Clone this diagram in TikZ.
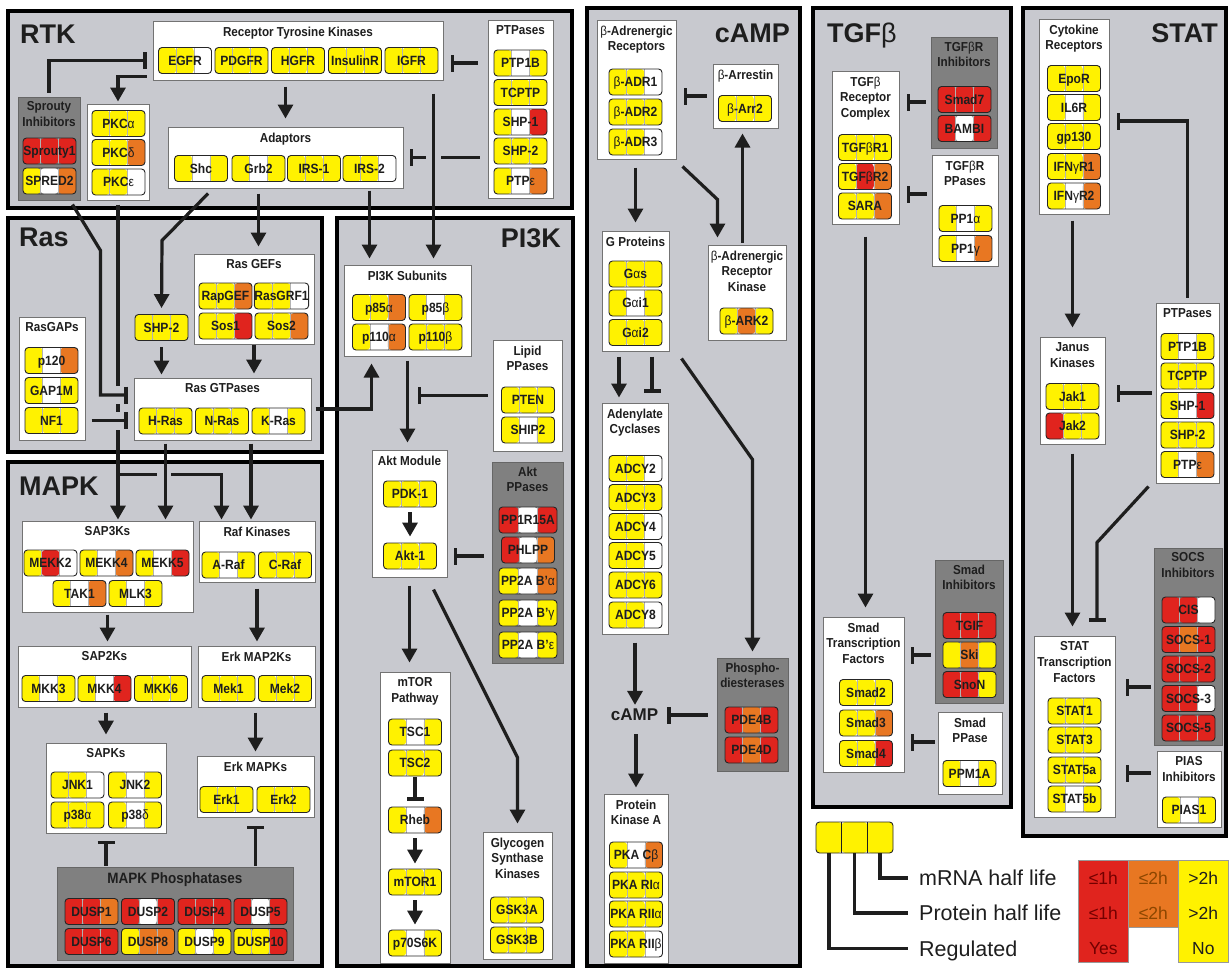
\documentclass[tikz,border=0pt]{standalone}
\usepackage{fontspec}
\setmainfont{Liberation Sans}
\newfontfamily\cf[FakeStretch=0.9]{Liberation Sans}
\usetikzlibrary{arrows.meta,calc,positioning,fit}
\definecolor{panelgray}{RGB}{200,201,207}
\definecolor{inhgray}{RGB}{128,128,128}
\definecolor{yel}{RGB}{255,242,0}
\definecolor{rdd}{RGB}{224,36,30}
\definecolor{org}{RGB}{232,119,34}
\definecolor{wht}{RGB}{255,255,255}
\definecolor{ink}{RGB}{30,30,30}
\newcommand{\gk}[1]{{\mdseries #1}}
% one gene: [extra options]{name}{x,y}{regulated}{protein}{mRNA}{label}
\newcommand{\gene}[7][]{%
  \node[gbox,#1,path picture={
    \coordinate (gsw) at (path picture bounding box.south west);
    \coordinate (gne) at (path picture bounding box.north east);
    \coordinate (ga) at ($(gsw)!1/3!(gsw-|gne)$);
    \coordinate (gb) at ($(gsw)!2/3!(gsw-|gne)$);
    \fill[#4] (gsw) rectangle (ga|-gne);
    \fill[#5] (ga) rectangle (gb|-gne);
    \fill[#6] (gb) rectangle (gne);
    \draw[sepl] (ga) -- (ga|-gne) (gb) -- (gb|-gne);
  }] (#2) at (#3) {#7};}
\tikzset{
  panel/.style={draw=black,line width=3.5pt,fill=panelgray,inner sep=0pt},
  wbox/.style={draw=black!55,line width=1pt,fill=white,inner sep=0pt},
  dbox/.style={draw=black!60,line width=1pt,fill=inhgray,inner sep=0pt},
  hdr/.style={font={\cf\bfseries\fontsize{13}{15.8}\selectfont},align=center,inner sep=1pt,text=ink},
  ttl/.style={font={\bfseries\fontsize{27}{30}\selectfont},inner sep=0pt,text=ink},
  gbox/.style={draw=black!85,line width=0.9pt,rounded corners=3.5pt,minimum width=53pt,minimum height=26pt,
    inner sep=0pt,text height=9.6pt,text depth=0pt,font={\cf\bfseries\fontsize{13.4}{13.4}\selectfont},text=ink},
  sepl/.style={draw=black!30,line width=0.6pt},
  conn/.style={line width=3.2pt,draw=ink},
  act/.style={conn,-{Triangle[length=14pt,width=15pt]},shorten <=5pt,shorten >=4pt},
  inh/.style={conn,-{Bar[width=17pt]},shorten <=6pt,shorten >=6pt},
  legl/.style={conn,line width=3.5pt},
  legt/.style={font={\fontsize{21.5}{22}\selectfont},inner sep=0pt,text height=15.4pt,text depth=0pt,text=ink},
  cell/.style={draw=black!40,line width=0.6pt,inner sep=0pt},
  cellt/.style={font={\fontsize{17.5}{18}\selectfont},inner sep=0pt,text height=12.5pt,text depth=0pt},
}
\begin{document}
\begin{tikzpicture}[x=1pt,y=-1pt]
\fill[white] (0,0) rectangle (1229,970);
\useasboundingbox (0,0) rectangle (1229,970);

% panels
\node[panel,fit={(8,11)(572,208)}] (pRTK) {};
\node[panel,fit={(8,218)(322,452)}] (pRas) {};
\node[panel,fit={(8,462)(322,966)}] (pMAPK) {};
\node[panel,fit={(337,218)(573,966)}] (pPI3K) {};
\node[panel,fit={(587,8)(800,966)}] (pCAMP) {};
\node[panel,fit={(813,8)(1011,807)}] (pTGF) {};
\node[panel,fit={(1023,8)(1226,836)}] (pSTAT) {};
\node[ttl,anchor=base west] (tRTK) at (20,43) {RTK};
\node[ttl,anchor=base west] (tRas) at (19,246) {Ras};
\node[ttl,anchor=base west] (tMAPK) at (19,495) {MAPK};
\node[ttl,anchor=base east] (tPI3K) at (561,247) {PI3K};
\node[ttl,anchor=base east] (tCAMP) at (790,42) {cAMP};
\node[ttl,anchor=base west] (tTGF) at (827,42) {TGF\gk{β}};
\node[ttl,anchor=base east] (tSTAT) at (1218,42) {STAT};

% RTK
\node[wbox,fit={(153,21)(443,80)}] (rtkG) {};
\node[hdr,below=5pt of rtkG.north] (rtkH) {Receptor Tyrosine Kinases};
\gene{EGFR}{185,60.5}{yel}{yel}{wht}{EGFR}
\gene{PDGFR}{241.5,60.5}{yel}{yel}{yel}{PDGFR}
\gene{HGFR}{298,60.5}{yel}{yel}{yel}{HGFR}
\gene{InsR}{355,60.5}{yel}{yel}{yel}{InsulinR}
\gene{IGFR}{411.5,60.5}{yel}{yel}{yel}{IGFR}
\node[wbox,fit={(488,20)(553,198)}] (ptpA) {};
\node[hdr,below=5pt of ptpA.north] (ptpAH) {PTPases};
\gene{PTP1Ba}{520.5,63}{yel}{wht}{yel}{PTP1B}
\gene{TCPTPa}{520.5,92.5}{yel}{yel}{yel}{TCPTP}
\gene{SHP1a}{520.5,122}{yel}{wht}{rdd}{SHP-1}
\gene{SHP2a}{520.5,151}{yel}{yel}{yel}{SHP-2}
\gene{PTPea}{520.5,181}{yel}{wht}{org}{PTP\gk{ε}}
\node[wbox,fit={(168,127)(403,188)}] (adpG) {};
\node[hdr,below=5pt of adpG.north] (adpH) {Adaptors};
\gene{Shc}{201,168.5}{yel}{wht}{yel}{Shc}
\gene{Grb}{258.5,168.5}{yel}{wht}{yel}{Grb2}
\gene{IRSa}{314,168.5}{yel}{yel}{yel}{IRS-1}
\gene{IRSb}{369.5,168.5}{yel}{yel}{wht}{IRS-2}
\node[dbox,fit={(18,97)(80,200)}] (sprG) {};
\node[hdr,below=4pt of sprG.north] (sprH) {Sprouty\\Inhibitors};
\gene{Spry}{49.5,151}{rdd}{rdd}{rdd}{Sprouty1}
\gene{Spred}{49.5,181}{yel}{wht}{org}{SPRED2}
\node[wbox,fit={(87,104)(149,200)}] (pkcG) {};
\gene{PKCa}{118.5,123.5}{yel}{yel}{yel}{PKC\gk{α}}
\gene{PKCd}{118.5,152.5}{yel}{yel}{org}{PKC\gk{δ}}
\gene{PKCe}{118.5,182}{yel}{yel}{wht}{PKC\gk{ε}}

% Ras
\node[wbox,fit={(194,254)(314,344)}] (gefG) {};
\node[hdr,below=5pt of gefG.north] (gefH) {Ras GEFs};
\gene{RapGEF}{225.5,296}{yel}{yel}{org}{RapGEF}
\gene{RasGRF}{281.5,296}{yel}{yel}{wht}{RasGRF1}
\gene{Sos1}{225.5,326}{yel}{yel}{rdd}{Sos1}
\gene{Sos2}{281.5,326}{yel}{yel}{org}{Sos2}
\gene{shpR}{161.5,327.5}{yel}{yel}{yel}{SHP-2}
\node[wbox,fit={(134,378)(311,440)}] (rasG) {};
\node[hdr,below=5pt of rasG.north] (rasH) {Ras GTPases};
\gene{Hras}{165.5,421}{yel}{yel}{yel}{H-Ras}
\gene{Nras}{222,421}{yel}{yel}{yel}{N-Ras}
\gene{Kras}{278.5,421}{yel}{wht}{yel}{K-Ras}
\node[wbox,fit={(19,317)(85,440)}] (gapG) {};
\node[hdr,below=5pt of gapG.north] (gapH) {RasGAPs};
\gene{p120}{51.5,360.5}{yel}{wht}{org}{p120}
\gene{GAP1M}{51.5,390.5}{yel}{wht}{yel}{GAP1M}
\gene{NF1}{51.5,420.5}{yel}{yel}{yel}{NF1}

% PI3K
\node[wbox,fit={(344,265)(471,356)}] (pi3G) {};
\node[hdr,below=5pt of pi3G.north] (pi3H) {PI3K Subunits};
\gene{p85a}{379,307.5}{yel}{yel}{org}{p85\gk{α}}
\gene{p85b}{435.5,307.5}{yel}{wht}{yel}{p85\gk{β}}
\gene{p110a}{379,337}{yel}{wht}{org}{p110\gk{α}}
\gene{p110b}{435.5,337}{yel}{yel}{yel}{p110\gk{β}}
\node[wbox,fit={(493,340)(562,451)}] (lipG) {};
\node[hdr,below=5pt of lipG.north] (lipH) {Lipid\\PPases};
\gene{PTEN}{528,400}{yel}{yel}{yel}{PTEN}
\gene{SHIP2}{528,430}{yel}{wht}{yel}{SHIP2}
\node[wbox,fit={(372,450)(447,577)}] (aktG) {};
\node[hdr,below=5pt of aktG.north] (aktH) {Akt Module};
\gene{PDK}{410,494}{yel}{yel}{yel}{PDK-1}
\gene{Akt}{410,556}{yel}{yel}{yel}{Akt-1}
\node[dbox,fit={(492,462)(563,663)}] (aktP) {};
\node[hdr,below=4pt of aktP.north] (aktPH) {Akt\\PPases};
\gene[minimum width=58pt]{PPr15}{528,520}{rdd}{wht}{rdd}{PP1R15A}
\gene{PHLPP}{528,550}{rdd}{wht}{org}{PHLPP}
\gene[minimum width=58pt]{PPa}{528,581}{yel}{wht}{org}{PP2A B’\gk{α}}
\gene[minimum width=58pt]{PPg}{528,613}{yel}{wht}{yel}{PP2A B’\gk{γ}}
\gene[minimum width=58pt]{PPe}{528,645}{yel}{wht}{yel}{PP2A B’\gk{ε}}
\node[wbox,fit={(380,672)(450,963)}] (mtG) {};
\node[hdr,below=5pt of mtG.north] (mtH) {mTOR\\Pathway};
\gene{TSCa}{415,732}{yel}{wht}{yel}{TSC1}
\gene{TSCb}{415,763}{yel}{yel}{yel}{TSC2}
\gene{Rheb}{415,820}{yel}{wht}{org}{Rheb}
\gene{mTOR}{415,882}{yel}{yel}{yel}{mTOR1}
\gene{p70}{415,943}{yel}{wht}{yel}{p70S6K}
\node[wbox,fit={(483,832)(552,959)}] (gskG) {};
\node[hdr,below=5pt of gskG.north] (gskH) {Glycogen\\Synthase\\Kinases};
\gene{GSKa}{517,910}{yel}{yel}{yel}{GSK3A}
\gene{GSKb}{517,940}{yel}{yel}{yel}{GSK3B}

% MAPK
\node[wbox,fit={(22,521)(193,612)}] (s3G) {};
\node[hdr,below=5pt of s3G.north] (s3H) {SAP3Ks};
\gene{MEKK2}{50.5,563}{yel}{rdd}{wht}{MEKK2}
\gene{MEKK4}{106.5,563}{yel}{wht}{org}{MEKK4}
\gene{MEKK5}{162.5,563}{yel}{wht}{rdd}{MEKK5}
\gene{TAK1}{79.5,593.5}{yel}{wht}{org}{TAK1}
\gene{MLK3}{135.5,593.5}{yel}{wht}{yel}{MLK3}
\node[wbox,fit={(199,521)(315,582)}] (rafG) {};
\node[hdr,below=5pt of rafG.north] (rafH) {Raf Kinases};
\gene{ARaf}{228.5,565}{yel}{wht}{yel}{A-Raf}
\gene{CRaf}{285,565}{yel}{yel}{yel}{C-Raf}
\node[wbox,fit={(18,646)(191,707)}] (s2G) {};
\node[hdr,below=5pt of s2G.north] (s2H) {SAP2Ks};
\gene{MKK3}{48.5,688.5}{yel}{wht}{yel}{MKK3}
\gene{MKK4}{104.5,688.5}{yel}{wht}{rdd}{MKK4}
\gene{MKK6}{161,688.5}{yel}{yel}{yel}{MKK6}
\node[wbox,fit={(198,646)(315,707)}] (e2G) {};
\node[hdr,below=5pt of e2G.north] (e2H) {Erk MAP2Ks};
\gene{Mek1}{228.5,688.5}{yel}{yel}{yel}{Mek1}
\gene{Mek2}{285,688.5}{yel}{yel}{yel}{Mek2}
\node[wbox,fit={(46,743)(166,833)}] (sapG) {};
\node[hdr,below=5pt of sapG.north] (sapH) {SAPKs};
\gene{JNK1}{77.5,785}{yel}{yel}{wht}{JNK1}
\gene{JNK2}{135,785}{yel}{wht}{yel}{JNK2}
\gene{p38a}{77.5,815}{yel}{yel}{yel}{p38\gk{α}}
\gene{p38d}{135,815}{yel}{wht}{yel}{p38\gk{δ}}
\node[wbox,fit={(197,756)(314,817)}] (erkG) {};
\node[hdr,below=5pt of erkG.north] (erkH) {Erk MAPKs};
\gene{Erk1}{226.5,799.5}{yel}{yel}{yel}{Erk1}
\gene{Erk2}{283.5,799.5}{yel}{yel}{yel}{Erk2}
\node[dbox,fit={(57,867)(293,960)}] (mkpG) {};
\node[hdr,font={\cf\bfseries\fontsize{15}{17}\selectfont},below=5pt of mkpG.north] (mkpH) {MAPK Phosphatases};
\gene{DUSP1}{91.5,911.5}{rdd}{rdd}{org}{DUSP1}
\gene{DUSP2}{148,911.5}{rdd}{wht}{rdd}{DUSP2}
\gene{DUSP4}{204.5,911.5}{rdd}{rdd}{rdd}{DUSP4}
\gene{DUSP5}{260.5,911.5}{rdd}{wht}{rdd}{DUSP5}
\gene{DUSP6}{91.5,941.5}{rdd}{rdd}{rdd}{DUSP6}
\gene{DUSP8}{148,941.5}{yel}{org}{org}{DUSP8}
\gene{DUSP9}{204.5,941.5}{yel}{wht}{yel}{DUSP9}
\gene{DUSP10}{260.5,941.5}{yel}{yel}{rdd}{DUSP10}

% cAMP
\node[wbox,fit={(597,20)(676,159)}] (badG) {};
\node[hdr,below=5pt of badG.north] (badH) {\gk{β}-Adrenergic\\Receptors};
\gene{ADRa}{635.5,82}{yel}{yel}{wht}{\gk{β}-ADR1}
\gene{ADRb}{635.5,112}{yel}{yel}{yel}{\gk{β}-ADR2}
\gene{ADRc}{635.5,142}{yel}{yel}{wht}{\gk{β}-ADR3}
\node[wbox,fit={(713,64)(778,128)}] (barG) {};
\node[hdr,below=5pt of barG.north] (barH) {\gk{β}-Arrestin};
\gene{Arr2}{745,108.5}{yel}{yel}{yel}{\gk{β}-Arr2}
\node[wbox,fit={(602,231)(669,351)}] (gpG) {};
\node[hdr,below=5pt of gpG.north] (gpH) {G Proteins};
\gene{Gas}{635.5,274}{yel}{yel}{yel}{G\gk{α}s}
\gene{Gai1}{635.5,303}{yel}{wht}{yel}{G\gk{α}i1}
\gene{Gai2}{635.5,332.5}{yel}{yel}{yel}{G\gk{α}i2}
\node[wbox,fit={(708,245)(786,340)}] (arkG) {};
\node[hdr,below=5pt of arkG.north] (arkH) {\gk{β}-Adrenergic\\Receptor\\Kinase};
\gene{ARK2}{746.5,321}{yel}{org}{yel}{\gk{β}-ARK2}
\node[wbox,fit={(602,403)(668,634)}] (acG) {};
\node[hdr,below=5pt of acG.north] (acH) {Adenylate\\Cyclases};
\gene{ADCY2}{635.5,468.5}{yel}{yel}{wht}{ADCY2}
\gene{ADCY3}{635.5,497.5}{yel}{yel}{yel}{ADCY3}
\gene{ADCY4}{635.5,526.5}{yel}{yel}{wht}{ADCY4}
\gene{ADCY5}{635.5,555.5}{yel}{yel}{wht}{ADCY5}
\gene{ADCY6}{635.5,585}{yel}{yel}{yel}{ADCY6}
\gene{ADCY8}{635.5,615}{yel}{yel}{wht}{ADCY8}
\node[font={\bfseries\fontsize{17}{17}\selectfont},inner sep=1pt,text=ink] (camp) at (634.5,715) {cAMP};
\node[dbox,fit={(717,658)(788,771)}] (pdeG) {};
\node[hdr,below=4pt of pdeG.north] (pdeH) {Phospho-\\diesterases};
\gene{PDE4B}{751.5,720}{rdd}{org}{rdd}{PDE4B}
\gene{PDE4D}{751.5,750}{rdd}{org}{rdd}{PDE4D}
\node[wbox,fit={(604,794)(668,963)}] (pkaG) {};
\node[hdr,below=5pt of pkaG.north] (pkaH) {Protein\\Kinase A};
\gene{PKAc}{636,855}{yel}{wht}{org}{PKA C\gk{β}}
\gene{PKAr1}{636,885}{yel}{yel}{yel}{PKA RI\gk{α}}
\gene{PKAr2a}{636,914}{yel}{yel}{yel}{PKA RII\gk{α}}
\gene{PKAr2b}{636,944}{yel}{yel}{wht}{PKA RII\gk{β}}

% TGFb
\node[wbox,fit={(832,71)(899,224)}] (tcG) {};
\node[hdr,below=5pt of tcG.north] (tcH) {TGF\gk{β}\\Receptor\\Complex};
\gene{TBR1}{865,147.5}{yel}{yel}{yel}{TGF\gk{β}R1}
\gene{TBR2}{865,176.5}{yel}{rdd}{org}{TGF\gk{β}R2}
\gene{SARA}{865,206}{yel}{yel}{org}{SARA}
\node[dbox,fit={(931,37)(997,148)}] (tiG) {};
\node[hdr,below=4pt of tiG.north] (tiH) {TGF\gk{β}R\\Inhibitors};
\gene{Smad7}{964.5,99.5}{rdd}{rdd}{rdd}{Smad7}
\gene{BAMBI}{964.5,128.5}{rdd}{wht}{rdd}{BAMBI}
\node[wbox,fit={(932,155)(998,266)}] (tpG) {};
\node[hdr,below=5pt of tpG.north] (tpH) {TGF\gk{β}R\\PPases};
\gene{PP1a}{965.5,218.5}{yel}{wht}{yel}{PP1\gk{α}}
\gene{PP1g}{965.5,248.5}{yel}{wht}{org}{PP1\gk{γ}}
\node[wbox,fit={(823,617)(904,772)}] (smG) {};
\node[hdr,below=5pt of smG.north] (smH) {Smad\\Transcription\\Factors};
\gene{Smad2}{866,692.5}{yel}{yel}{yel}{Smad2}
\gene{Smad3}{866,723}{yel}{yel}{org}{Smad3}
\gene{Smad4}{866,753.5}{yel}{yel}{rdd}{Smad4}
\node[dbox,fit={(935,560)(1003,703)}] (siG) {};
\node[hdr,below=4pt of siG.north] (siH) {Smad\\Inhibitors};
\gene{TGIF}{969.5,625.5}{rdd}{rdd}{rdd}{TGIF}
\gene{Ski}{969.5,655}{yel}{org}{yel}{Ski}
\gene{SnoN}{969.5,684.5}{rdd}{rdd}{yel}{SnoN}
\node[wbox,fit={(938,712)(1002,794)}] (sppG) {};
\node[hdr,below=5pt of sppG.north] (sppH) {Smad\\PPase};
\gene{PPM1A}{969.5,773.5}{yel}{wht}{yel}{PPM1A}

% STAT
\node[wbox,fit={(1039,19)(1109,214)}] (crG) {};
\node[hdr,below=5pt of crG.north] (crH) {Cytokine\\Receptors};
\gene{EpoR}{1074,78.5}{yel}{yel}{yel}{EpoR}
\gene{IL6R}{1074,107.5}{yel}{wht}{yel}{IL6R}
\gene{gp130}{1074,136.5}{yel}{yel}{yel}{gp130}
\gene{IFNR1}{1074,166.5}{yel}{yel}{org}{IFN\gk{γ}R1}
\gene{IFNR2}{1074,196}{yel}{wht}{org}{IFN\gk{γ}R2}
\node[wbox,fit={(1156,303)(1219,483)}] (ptpS) {};
\node[hdr,below=5pt of ptpS.north] (ptpSH) {PTPases};
\gene{PTP1Bs}{1187.5,346.5}{yel}{wht}{yel}{PTP1B}
\gene{TCPTPs}{1187.5,376}{yel}{yel}{yel}{TCPTP}
\gene{SHP1s}{1187.5,405.5}{yel}{wht}{rdd}{SHP-1}
\gene{SHP2s}{1187.5,435}{yel}{yel}{yel}{SHP-2}
\gene{PTPes}{1187.5,464.5}{yel}{wht}{org}{PTP\gk{ε}}
\node[wbox,fit={(1040,337)(1105,444)}] (jkG) {};
\node[hdr,below=5pt of jkG.north] (jkH) {Janus\\Kinases};
\gene{Jak1}{1072.5,396.5}{yel}{yel}{yel}{Jak1}
\gene{Jak2}{1072.5,426}{rdd}{yel}{yel}{Jak2}
\node[wbox,fit={(1034,636)(1115,817)}] (stG) {};
\node[hdr,below=5pt of stG.north] (stH) {STAT\\Transcription\\Factors};
\gene{STAT1}{1074.5,711}{yel}{yel}{yel}{STAT1}
\gene{STAT3}{1074.5,740}{yel}{yel}{yel}{STAT3}
\gene{STAT5a}{1074.5,770}{yel}{yel}{yel}{STAT5a}
\gene{STAT5b}{1074.5,799}{yel}{wht}{yel}{STAT5b}
\node[dbox,fit={(1154,548)(1222,745)}] (scG) {};
\node[hdr,below=4pt of scG.north] (scH) {SOCS\\Inhibitors};
\gene{CIS}{1188.5,610}{rdd}{rdd}{wht}{CIS}
\gene{SOCS1}{1188.5,639.5}{rdd}{org}{rdd}{SOCS-1}
\gene{SOCS2}{1188.5,669}{rdd}{rdd}{rdd}{SOCS-2}
\gene{SOCS3}{1188.5,698.5}{rdd}{rdd}{wht}{SOCS-3}
\gene{SOCS5}{1188.5,728}{rdd}{rdd}{rdd}{SOCS-5}
\node[wbox,fit={(1157,751)(1221,827)}] (piG) {};
\node[hdr,below=5pt of piG.north] (piH) {PIAS\\Inhibitors};
\gene{PIAS1}{1189,810}{yel}{wht}{yel}{PIAS1}

% connectors: RTK
\draw[inh,shorten <=10pt,shorten >=7pt] (ptpA.west |- PTP1Ba) -- (rtkG.east |- PTP1Ba);
\draw[inh,shorten <=8pt,shorten >=6pt] (ptpA.west |- adpG.east) -- (adpG.east);
\fill[panelgray] (426,149) rectangle (441,164);
\draw[act,shorten <=13pt,shorten >=6pt] ([xshift=-10pt]rtkG.south east) -- ([xshift=-10pt]rtkG.south east |- pi3G.north);
\draw[inh,shorten <=4pt,shorten >=6pt] (sprG.north) |- (rtkG.west |- EGFR);
\draw[act,shorten <=6pt,shorten >=2pt] ([yshift=4pt]rtkG.south west) -| (pkcG.north);
\draw[act,shorten <=6pt,shorten >=8pt] (adpG.north |- rtkG.south) -- (adpG.north);
\draw[act,shorten <=2pt,shorten >=6pt] (IRSb.south |- adpG.south) -- (IRSb.south |- pi3G.north);
\draw[act,shorten <=5pt,shorten >=7pt] (Grb.south |- adpG.south) -- (Grb.south |- gefG.north);
\draw[act,shorten <=7pt,shorten >=6pt] ([xshift=12pt]Shc.south |- adpG.south) -- ++(-51,52) -- (shpR.north);

% connectors: PKC and Ras into MAPK
\draw[act,shorten <=4pt,shorten >=1pt] (pkcG.south) -- (pkcG.south |- s3G.north);
\draw[act,shorten <=0pt,shorten >=1pt] ([yshift=46pt]s3G.north -| pkcG.south) -| ([xshift=23pt]rafG.north west);
\fill[panelgray] (157,469) rectangle (171,481);
\draw[act,shorten <=3pt,shorten >=1pt] (Hras.south |- rasG.south) -- (Hras.south |- s3G.north);
\draw[act,shorten <=3pt,shorten >=1pt] ([xshift=-6pt]rafG.north |- rasG.south) -- ([xshift=-6pt]rafG.north);
\fill[panelgray] (112,386) rectangle (124,404);
\fill[panelgray] (112,412) rectangle (124,430);
\draw[inh,shorten <=0pt,shorten >=6pt] ([xshift=-8pt,yshift=-4pt]sprG.south east) -- ++(28,46) |- ([yshift=14pt]rasG.west);
\draw[inh] (NF1.east -| gapG.east) -- (NF1.east -| rasG.west);

% connectors: Ras
\draw[act,shorten <=6pt,shorten >=3pt] (shpR.south) -- (shpR.south |- rasG.north);
\draw[act,shorten <=0pt,shorten >=4pt] (gefG.south) -- (gefG.south |- rasG.north);
\draw[act,shorten <=4pt,shorten >=7pt] (rasG.east) -| ([xshift=28pt]pi3G.south west);

% connectors: PI3K
\draw[act,shorten <=4pt,shorten >=7pt] (pi3G.south) -- (pi3G.south |- aktG.north);
\draw[inh,shorten <=5pt,shorten >=10pt] (lipG.west) -- (lipG.west -| pi3G.south);
\draw[act,shorten <=5pt,shorten >=6pt] (PDK.south) -- (Akt.north);
\draw[inh,shorten <=8pt,shorten >=6pt] (aktP.west |- Akt) -- (aktG.east |- Akt);
\draw[act,shorten <=8pt,shorten >=9pt] (aktG.south) -- (aktG.south |- mtG.north);
\draw[act,shorten <=0pt,shorten >=8pt] ([xshift=-14pt,yshift=-12pt]aktG.south east) -- ([yshift=74pt]gskG.north) -- (gskG.north);
\draw[inh,shorten <=1pt,shorten >=6pt] (TSCb.south) -- (Rheb.north);
\draw[act,shorten <=5pt,shorten >=5pt] (Rheb.south) -- (mTOR.north);
\draw[act,shorten <=5pt,shorten >=5pt] (mTOR.south) -- (p70.north);

% connectors: MAPK
\draw[act,shorten <=2pt,shorten >=4pt] (s3G.south) -- (s3G.south |- s2G.north);
\draw[act,shorten <=6pt,shorten >=4pt] (rafG.south) -- (rafG.south |- e2G.north);
\draw[act,shorten <=5pt,shorten >=8pt] (sapG.north |- s2G.south) -- (sapG.north);
\draw[act,shorten <=5pt,shorten >=4pt] (erkG.north |- e2G.south) -- (erkG.north);
\draw[inh,shorten <=1pt,shorten >=7pt] (sapG.south |- mkpG.north) -- (sapG.south);
\draw[inh,shorten <=1pt,shorten >=8pt] (erkG.south |- mkpG.north) -- (erkG.south);

% connectors: cAMP
\draw[inh,shorten <=6pt,shorten >=7pt] (barG.west) -- (barG.west -| badG.east);
\draw[act,shorten <=8pt,shorten >=8pt] (gpG.north |- badG.south) -- (gpG.north);
\draw[act,shorten <=0pt,shorten >=7pt] ([xshift=6pt,yshift=-7pt]badG.south east) -- ([xshift=10pt,yshift=45pt]arkG.north west) -- ([xshift=10pt]arkG.north west);
\draw[act,shorten <=2pt,shorten >=5pt] ([xshift=35pt]arkG.north west) -- ([xshift=35pt]arkG.north west |- barG.south);
\draw[act,shorten <=5pt,shorten >=5pt] ([xshift=-16.5pt]gpG.south) -- ([xshift=-16.5pt]gpG.south |- acG.north);
\draw[inh,shorten <=5pt,shorten >=10pt] ([xshift=16.5pt]gpG.south) -- ([xshift=16.5pt]gpG.south |- acG.north);
\draw[act,shorten <=0pt,shorten >=6pt] ([xshift=12pt,yshift=-7pt]gpG.south east) -- ([yshift=198pt]pdeG.north) -- (pdeG.north);
\draw[act,shorten <=8pt,shorten >=3pt] (acG.south) -- (acG.south |- camp.north);
\draw[inh,shorten <=9pt,shorten >=8pt] (pdeG.west |- camp) -- (camp.east);
\draw[act,shorten <=12pt,shorten >=6pt] (camp.south -| pkaG.north) -- (pkaG.north);

% connectors: TGFb
\draw[inh,shorten <=5pt,shorten >=7pt] ([yshift=-9.5pt]tiG.west) -- ([yshift=-9.5pt]tiG.west -| tcG.east);
\draw[inh,shorten <=5pt,shorten >=7pt] ([yshift=16.5pt]tpG.west) -- ([yshift=16.5pt]tpG.west -| tcG.east);
\draw[act,shorten <=12pt,shorten >=9pt] (tcG.south) -- (tcG.south |- smG.north);
\draw[inh,shorten <=4pt,shorten >=6pt] ([yshift=-23.5pt]siG.west) -- ([yshift=-23.5pt]siG.west -| smG.east);
\draw[inh,shorten <=3pt,shorten >=6pt] ([yshift=11pt]sppG.west) -- ([yshift=11pt]sppG.west -| smG.east);

% connectors: STAT
\draw[inh,shorten <=5pt,shorten >=7pt] (ptpS.north) |- ([yshift=-4.5pt]crG.east);
\draw[act,shorten <=6pt,shorten >=9pt] (jkG.north |- crG.south) -- (jkG.north);
\draw[inh,shorten <=4pt,shorten >=11pt] (ptpS.west) -- (ptpS.west -| jkG.east);
\draw[inh,shorten <=0pt,shorten >=14pt] ([xshift=-7pt,yshift=-3pt]ptpS.south west) -- ([xshift=22.5pt,yshift=93pt]stG.north) -- ([xshift=22.5pt]stG.north);
\draw[act,shorten <=9pt,shorten >=9pt] (jkG.south) -- (jkG.south |- stG.north);
\draw[inh,shorten <=3pt,shorten >=10pt] ([yshift=-40.5pt]scG.west) -- ([yshift=-40.5pt]scG.west -| stG.east);
\draw[inh,shorten <=6pt,shorten >=10pt] ([yshift=16pt]piG.west) -- ([yshift=16pt]piG.west -| stG.east);

% legend
\gene[minimum width=77pt,minimum height=31pt]{legB}{854.5,837.5}{yel}{yel}{yel}{}
\draw[ink,line width=1pt] ($(legB.south west)!1/3!(legB.south east)$) -- ($(legB.north west)!1/3!(legB.north east)$)
  ($(legB.south west)!2/3!(legB.south east)$) -- ($(legB.north west)!2/3!(legB.north east)$);
\node[legt,anchor=west] (legMrna) at (919,878) {mRNA half life};
\node[legt,anchor=west] (legProt) at (919,913) {Protein half life};
\node[legt,anchor=west] (legReg) at (919,948.5) {Regulated};
\draw[legl,shorten >=11pt] ([xshift=25.7pt]legB.south) |- (legMrna.west);
\draw[legl,shorten >=11pt] (legB.south) |- (legProt.west);
\draw[legl,shorten >=11pt] ([xshift=-25.7pt]legB.south) |- (legReg.west);
\node[cell,fill=rdd,minimum width=50pt,minimum height=102pt,anchor=north west] (cRed) at (1078,860) {};
\node[cell,fill=org,minimum width=50pt,minimum height=67pt,anchor=north west] (cOrg) at (1128,860) {};
\node[cell,fill=yel,minimum width=50pt,minimum height=102pt,anchor=north west] (cYel) at (1178,860) {};
\node[cellt,text=red!45!black] (cR1) at (cRed.north |- legMrna) {≤1h};
\node[cellt,text=red!45!black] (cR2) at (cRed.north |- legProt) {≤1h};
\node[cellt,text=red!45!black] (cR3) at (cRed.north |- legReg) {Yes};
\node[cellt,text=orange!55!black] (cO1) at (cOrg.north |- legMrna) {≤2h};
\node[cellt,text=orange!55!black] (cO2) at (cOrg.north |- legProt) {≤2h};
\node[cellt,text=ink] (cY1) at (cYel.north |- legMrna) {>2h};
\node[cellt,text=ink] (cY2) at (cYel.north |- legProt) {>2h};
\node[cellt,text=ink] (cY3) at (cYel.north |- legReg) {No};
\end{tikzpicture}
\end{document}
